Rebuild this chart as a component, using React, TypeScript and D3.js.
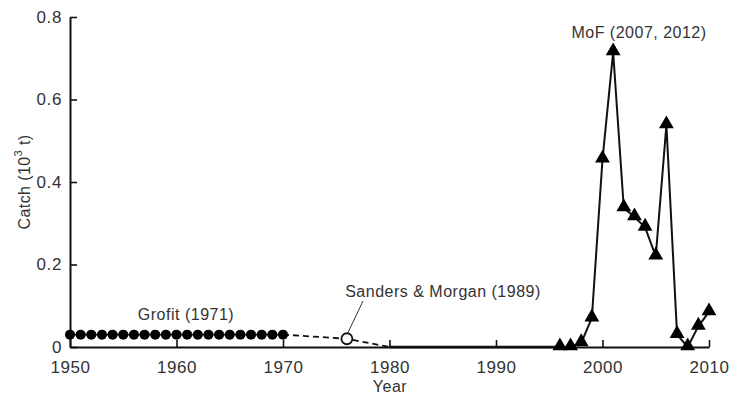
import React, { useEffect, useRef } from 'react';
import * as d3 from 'd3';

// Grofit (1971): 1950-1970
const grofitYears = d3.range(1950, 1971);
const grofitValues = grofitYears.map(() => 0.03);

// Sanders & Morgan (1989) link (dashed)
const dashedYears = [1970, 1976, 1980];
const dashedValues = [0.03, 0.02, 0];

// zero catch period (solid, no markers)
const zeroYears = [1980, 1996];
const zeroValues = [0, 0];

// MoF (2007, 2012)
const mofYears = [1996, 1997, 1998, 1999, 2000, 2001, 2002, 2003, 2004, 2005, 2006, 2007, 2008, 2009, 2010];
const mofValues = [0, 0, 0.01, 0.07, 0.455, 0.715, 0.337, 0.315, 0.29, 0.22, 0.538, 0.03, 0, 0.05, 0.085];

const xTicks = [1950, 1960, 1970, 1980, 1990, 2000, 2010];
const yTicks = [0, 0.2, 0.4, 0.6, 0.8];

export default function App() {
  const svgRef = useRef<SVGSVGElement>(null);

  useEffect(() => {
    if (!svgRef.current) return;
    const svg = d3.select(svgRef.current);
    svg.selectAll('*').remove();

    const x = d3.scaleLinear().domain([1950, 2010]).range([70, 709]);
    const y = d3.scaleLinear().domain([0, 0.8]).range([347, 17]);

    const font = 'Liberation Sans, Arial, sans-serif';
    const textColor = '#333';

    // axes
    const xAxis = svg.append('g')
      .attr('transform', `translate(0,${y(0)})`)
      .call(d3.axisBottom(x).tickValues(xTicks).tickFormat(d3.format('d')).tickSize(-7).tickSizeOuter(0).tickPadding(14));
    const yAxis = svg.append('g')
      .attr('transform', `translate(${x(1950)},0)`)
      .call(d3.axisLeft(y).tickValues(yTicks)
        .tickFormat(d => (+d === 0 ? '0' : d3.format('.1f')(+d)))
        .tickSize(-7).tickSizeOuter(0).tickPadding(8));

    [xAxis, yAxis].forEach(ax => {
      ax.select('.domain').attr('stroke', '#111').attr('stroke-width', 2);
      ax.selectAll('.tick line').attr('stroke', '#111').attr('stroke-width', 1.6);
      ax.selectAll('.tick text')
        .attr('font-family', font)
        .attr('font-size', 17)
        .attr('letter-spacing', 0.6)
        .attr('fill', textColor);
    });

    const line = d3.line<[number, number]>()
      .x(d => x(d[0]))
      .y(d => y(d[1]));

    const zip = (xs: number[], ys: number[]) => xs.map((v, i) => [v, ys[i]] as [number, number]);

    const grofit = zip(grofitYears, grofitValues);
    const dashed = zip(dashedYears, dashedValues);
    const zero = zip(zeroYears, zeroValues);
    const mof = zip(mofYears, mofValues);

    // dashed link
    svg.append('path')
      .datum(dashed)
      .attr('d', line)
      .attr('fill', 'none')
      .attr('stroke', '#111')
      .attr('stroke-width', 1.8)
      .attr('stroke-dasharray', '6,4');

    // zero period
    svg.append('path')
      .datum(zero)
      .attr('d', line)
      .attr('fill', 'none')
      .attr('stroke', '#111')
      .attr('stroke-width', 2.5);

    // Grofit line + dots
    svg.append('path')
      .datum(grofit)
      .attr('d', line)
      .attr('fill', 'none')
      .attr('stroke', '#111')
      .attr('stroke-width', 1.8);

    svg.selectAll('.dot')
      .data(grofit)
      .join('circle')
      .attr('cx', d => x(d[0]))
      .attr('cy', d => y(d[1]))
      .attr('r', 5)
      .attr('fill', '#000');

    // open circle (Sanders & Morgan)
    svg.append('circle')
      .attr('cx', x(dashedYears[1]))
      .attr('cy', y(dashedValues[1]))
      .attr('r', 5.5)
      .attr('fill', '#fff')
      .attr('stroke', '#111')
      .attr('stroke-width', 1.8);

    // MoF line + triangles
    svg.append('path')
      .datum(mof)
      .attr('d', line)
      .attr('fill', 'none')
      .attr('stroke', '#111')
      .attr('stroke-width', 2);

    const tri = d3.symbol().type(d3.symbolTriangle).size(95)();
    svg.selectAll('.tri')
      .data(mof)
      .join('path')
      .attr('d', tri)
      .attr('transform', d => `translate(${x(d[0])},${y(d[1]) - 1})`)
      .attr('fill', '#000');

    // annotations
    const label = (tx: number, ty: number, s: string, anchor = 'middle') =>
      svg.append('text')
        .attr('x', tx)
        .attr('y', ty)
        .attr('text-anchor', anchor)
        .attr('dominant-baseline', 'middle')
        .attr('font-family', font)
        .attr('font-size', 16)
        .attr('letter-spacing', 0.5)
        .attr('fill', textColor)
        .text(s);

    label(186, 316, 'Grofit (1971)');
    label(443, 293, 'Sanders & Morgan (1989)');
    label(639, 34, 'MoF (2007, 2012)');
    label(390, 388, 'Year');

    svg.append('line')
      .attr('x1', x(dashedYears[1]) + 1)
      .attr('y1', y(dashedValues[1]) - 6)
      .attr('x2', 363)
      .attr('y2', 301)
      .attr('stroke', '#333')
      .attr('stroke-width', 1);

    const yl = svg.append('text')
      .attr('transform', 'translate(26,182) rotate(-90)')
      .attr('text-anchor', 'middle')
      .attr('dominant-baseline', 'middle')
      .attr('font-family', font)
      .attr('font-size', 16)
      .attr('letter-spacing', 0.4)
      .attr('fill', textColor);
    yl.append('tspan').text('Catch (10');
    yl.append('tspan').attr('font-size', 11).attr('dy', -7).text('3');
    yl.append('tspan').attr('dy', 7).text(' t)');
  }, []);

  return (
    <div style={{ position: 'fixed', left: 0, top: 0, background: '#fff' }}>
      <svg ref={svgRef} width={749} height={400} />
    </div>
  );
}
